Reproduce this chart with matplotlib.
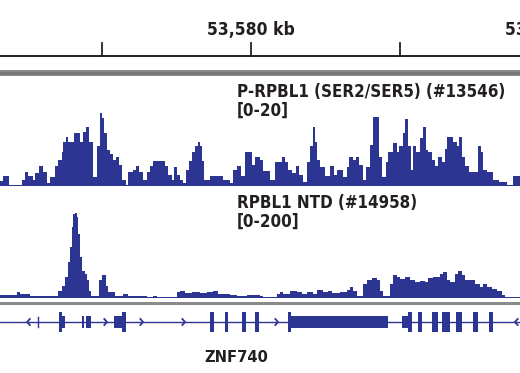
import numpy as np
import matplotlib
matplotlib.use("Agg")
import matplotlib.pyplot as plt
from matplotlib import font_manager
from matplotlib.font_manager import FontProperties

# ---------------- data ----------------
REGION_START_KB = 53571.58
REGION_END_KB = 53589.03
TICK_STEP_KB = 5
LABEL_STEP_KB = 10

track1_name = "P-RPBL1 (SER2/SER5) (#13546)"
track1_range = "[0-20]"
track1_max = 20
# segment start positions (kb offset from region start) and values
track1_starts = [0.00, 0.09, 0.31, 0.73, 0.84, 0.95, 1.12, 1.17, 1.32, 1.45, 1.57, 1.68, 1.85, 1.96,
                 2.07, 2.13, 2.21, 2.29, 2.48, 2.68, 2.77, 2.89, 3.00, 3.11, 3.27, 3.36, 3.41, 3.49,
                 3.58, 3.69, 3.80, 3.89, 3.98, 4.08, 4.23, 4.31, 4.45, 4.56, 4.68, 4.79, 4.92, 5.03,
                 5.12, 5.54, 5.65, 5.76, 5.84, 5.93, 6.04, 6.15, 6.24, 6.35, 6.43, 6.54, 6.66, 6.71,
                 6.77, 6.85, 7.05, 7.49, 7.72, 7.83, 7.94, 8.08, 8.22, 8.33, 8.45, 8.56,
                 8.73, 8.84, 9.06, 9.23, 9.45, 9.56, 9.68, 9.79, 9.93, 10.05, 10.16, 10.29, 10.40,
                 10.49, 10.57, 10.65, 10.74, 10.91, 11.07, 11.21, 11.32, 11.50, 11.66, 11.72, 11.84,
                 11.95, 12.06, 12.17, 12.28, 12.42, 12.51, 12.73, 12.81, 12.95, 13.03, 13.20, 13.31,
                 13.40, 13.51, 13.59, 13.70, 13.78, 13.87, 13.96, 14.09, 14.21, 14.30, 14.37, 14.49,
                 14.60, 14.71, 14.82, 14.93, 15.01, 15.19, 15.33, 15.40, 15.52, 15.60, 15.75, 16.05,
                 16.13, 16.22, 16.33, 16.56, 16.76, 17.00, 17.23]
track1_values = [1.0, 1.8, 0.2, 1.1, 2.6, 1.8, 1.1, 2.3, 3.6, 2.6, 0.5, 1.7, 3.6, 4.7,
                 6.2, 8.0, 9.0, 8.0, 9.7, 8.0, 9.9, 10.8, 8.0, 1.7, 7.2, 13.2, 12.3, 9.6,
                 6.5, 5.9, 4.7, 5.3, 3.8, 1.1, 0.2, 2.6, 2.9, 3.6, 2.6, 1.1, 2.6, 3.6,
                 4.5, 3.6, 2.0, 1.1, 3.4, 2.0, 1.1, 0.5, 2.9, 4.5, 6.2, 7.2, 8.0, 7.2,
                 4.5, 1.1, 1.8, 1.1, 0.5, 2.9, 3.6, 1.8, 6.1, 6.2, 3.8, 5.3,
                 4.7, 2.8, 1.1, 4.4, 5.3, 4.4, 2.9, 2.3, 3.6, 2.0, 0.8, 4.4, 7.2,
                 10.7, 8.0, 4.7, 3.5, 1.8, 3.6, 2.0, 2.9, 1.7, 3.5, 5.3, 4.7,
                 5.3, 3.8, 1.1, 3.5, 7.5, 12.5, 5.3, 1.7, 4.4, 6.2, 7.9, 6.2,
                 7.2, 9.6, 12.1, 7.2, 2.9, 7.2, 6.2, 8.7, 10.7, 6.5, 6.2, 4.7,
                 3.6, 5.3, 4.4, 6.8, 9.0, 8.0, 7.2, 9.0, 5.3, 3.6, 2.6, 7.2,
                 6.2, 2.9, 2.6, 1.1, 0.8, 0.2, 1.8]

track2_name = "RPBL1 NTD (#14958)"
track2_range = "[0-200]"
track2_max = 200
track2_starts = [0.00, 0.56, 0.67, 1.01, 1.12, 1.40, 1.96, 2.07, 2.18, 2.29, 2.35, 2.41, 2.46, 2.52,
                 2.57, 2.63, 2.68, 2.74, 2.85, 2.93, 3.00, 3.04, 3.33, 3.41, 3.56, 3.64, 3.86, 4.14,
                 4.31, 4.59, 4.92, 5.15, 5.26, 5.93, 6.04, 6.21, 6.43, 6.71, 6.94, 7.16, 7.33, 7.72,
                 7.94, 8.28,
                 8.73, 8.84, 9.28, 9.40, 9.51, 9.73, 9.96, 10.12, 10.29, 10.51, 10.63, 10.85, 11.02,
                 11.13, 11.41, 11.63, 11.75, 11.86, 11.97, 12.19, 12.30, 12.47, 12.64, 12.75, 12.86,
                 13.09, 13.20, 13.31, 13.42, 13.59, 13.76, 13.93, 14.09, 14.26, 14.37, 14.54, 14.77,
                 14.88, 14.99, 15.10, 15.27, 15.38, 15.49, 15.60, 15.77, 15.94, 16.11, 16.22, 16.33,
                 16.50, 16.67, 16.84, 16.95]
track2_values = [4, 11, 6, 2, 3, 2, 13, 22, 38, 66, 94, 131, 156, 158,
                 150, 119, 75, 49, 44, 32, 13, 2, 33, 41, 22, 10, 2, 6,
                 3, 2, 1.5, 3, 1.5, 10, 13, 8, 10, 8, 11, 13, 7, 5,
                 3, 5,
                 3, 1.5, 6, 10, 7, 13, 10, 6, 10, 6, 14, 10, 12,
                 8, 10, 14, 19, 13, 2, 26, 33, 36, 32, 13, 2,
                 26, 41, 38, 35, 39, 33, 29, 31, 29, 37, 39, 44,
                 47, 33, 29, 43, 49, 41, 33, 32, 26, 19, 26, 19,
                 16, 13, 4, 1.5]

gene_name = "ZNF740"
gene_exons_coding = [(1.98, 2.08), (4.09, 4.23), (7.05, 7.18), (7.55, 7.65), (8.12, 8.26),
                     (8.56, 8.69), (9.66, 9.77), (13.69, 13.83), (14.03, 14.16), (14.50, 14.70),
                     (14.83, 15.10), (15.30, 15.50), (15.87, 16.04), (16.41, 16.54)]
gene_exons_utr = [(2.08, 2.18), (2.75, 2.82), (2.89, 3.05), (3.83, 4.09), (9.77, 13.02),
                  (13.49, 13.69)]
gene_small_marks = [1.28]
gene_arrows_right = [3.59, 4.80, 6.21, 9.33]
gene_arrows_left = [0.91, 17.28]

# ---------------- style ----------------
BLUE = "#2c3592"
TEXT = "#231f20"
W, H = 520, 373


def pick_font():
    cands = []
    for f in font_manager.fontManager.ttflist:
        fn = f.fname.lower()
        if ("narrow" in fn or "condensed" in fn) and f.weight in ("bold", 700, 600, "semibold", "heavy", 800):
            score = 0 if "liberation" in fn else (1 if "dejavusans" in fn and "mono" not in fn and "serif" not in fn else 2)
            if "oblique" in fn or "italic" in fn:
                continue
            cands.append((score, f.fname))
    if cands:
        cands.sort()
        return FontProperties(fname=cands[0][1])
    return FontProperties(family=["Liberation Sans", "DejaVu Sans"], weight="bold")


FP = pick_font()

fig = plt.figure(figsize=(W / 100, H / 100), dpi=100)
x0 = REGION_START_KB
x1 = REGION_END_KB


def fy(y):
    return 1 - y / H


ov = fig.add_axes([0, 0, 1, 1])
ov.set_xlim(x0, x1)
ov.set_ylim(H, 0)
ov.axis("off")

renderer = fig.canvas.get_renderer()


def fit_size(text, target_px, base=14.0):
    fp = FP.copy()
    fp.set_size(base)
    t = fig.text(0, 0, text, fontproperties=fp)
    w = t.get_window_extent(renderer).width
    t.remove()
    return base * target_px / w


def put(x, y, s, size, ha="left"):
    fp = FP.copy()
    fp.set_size(size)
    ov.text(x, y, s, fontproperties=fp, color=TEXT, ha=ha, va="baseline", clip_on=False)


ruler_size = min(fit_size("53,580 kb", 88), 16)
label_size = min(fit_size(track1_name, 270), 14)
gene_size = min(fit_size(gene_name, 64), 16)

# ruler
ov.plot([x0, x1], [56, 56], color="#222222", lw=1.4, solid_capstyle="butt")
first_tick = np.ceil(x0 / TICK_STEP_KB) * TICK_STEP_KB
for t in np.arange(first_tick, x1 + 20, TICK_STEP_KB):
    if t <= x1:
        ov.plot([t, t], [43, 55.5], color="#222222", lw=1.3)
    if int(round(t)) % LABEL_STEP_KB == 0:
        put(t, 35, f"{int(round(t)):,} kb", ruler_size, ha="center")
# gray separator bands
ov.fill_between([x0, x1], 70, 76, color="#8a8a8a", lw=0)
ov.fill_between([x0, x1], 71.5, 74.5, color="#777777", lw=0)
ov.fill_between([x0, x1], 302, 305, color="#8a8a8a", lw=0)


def to_abs(lst):
    return [x0 + v for v in lst]


def draw_track(top, bottom, starts, values, vmax):
    ax = fig.add_axes([0, fy(bottom), 1, fy(top) - fy(bottom)])
    ax.set_xlim(x0, x1)
    ax.set_ylim(0, vmax)
    ax.axis("off")
    xs = to_abs(starts) + [x1]
    ys = list(values) + [values[-1]]
    ax.fill_between(xs, 0, ys, step="post", color=BLUE, lw=0)
    ax.patch.set_alpha(0)
    return ax


draw_track(76, 186, track1_starts, track1_values, track1_max)
draw_track(190, 297.5, track2_starts, track2_values, track2_max)

lx = x0 + 237 / 29.8
put(lx, 97, track1_name, label_size)
put(lx, 116, track1_range, label_size)
put(lx, 208, track2_name, label_size)
put(lx, 227, track2_range, label_size)

# gene track
GY = 322
ov.plot([x0, x1], [GY, GY], color=BLUE, lw=1.0)
for s, e in gene_exons_coding:
    ov.fill_between([x0 + s, x0 + e], GY - 10.5, GY + 9.5, color=BLUE, lw=0)
for s, e in gene_exons_utr:
    ov.fill_between([x0 + s, x0 + e], GY - 6, GY + 6, color=BLUE, lw=0)
for m in gene_small_marks:
    ov.plot([x0 + m, x0 + m], [GY - 5, GY + 5], color=BLUE, lw=1.0)
dx = 0.09
for a in gene_arrows_right:
    ov.plot([x0 + a - dx, x0 + a, x0 + a - dx], [GY - 3, GY, GY + 3], color=BLUE, lw=1.3)
for a in gene_arrows_left:
    ov.plot([x0 + a + dx, x0 + a, x0 + a + dx], [GY - 3, GY, GY + 3], color=BLUE, lw=1.3)
put(x0 + 236 / 29.8, 362, gene_name, gene_size, ha="center")

fig.savefig("out.png", dpi=100)
